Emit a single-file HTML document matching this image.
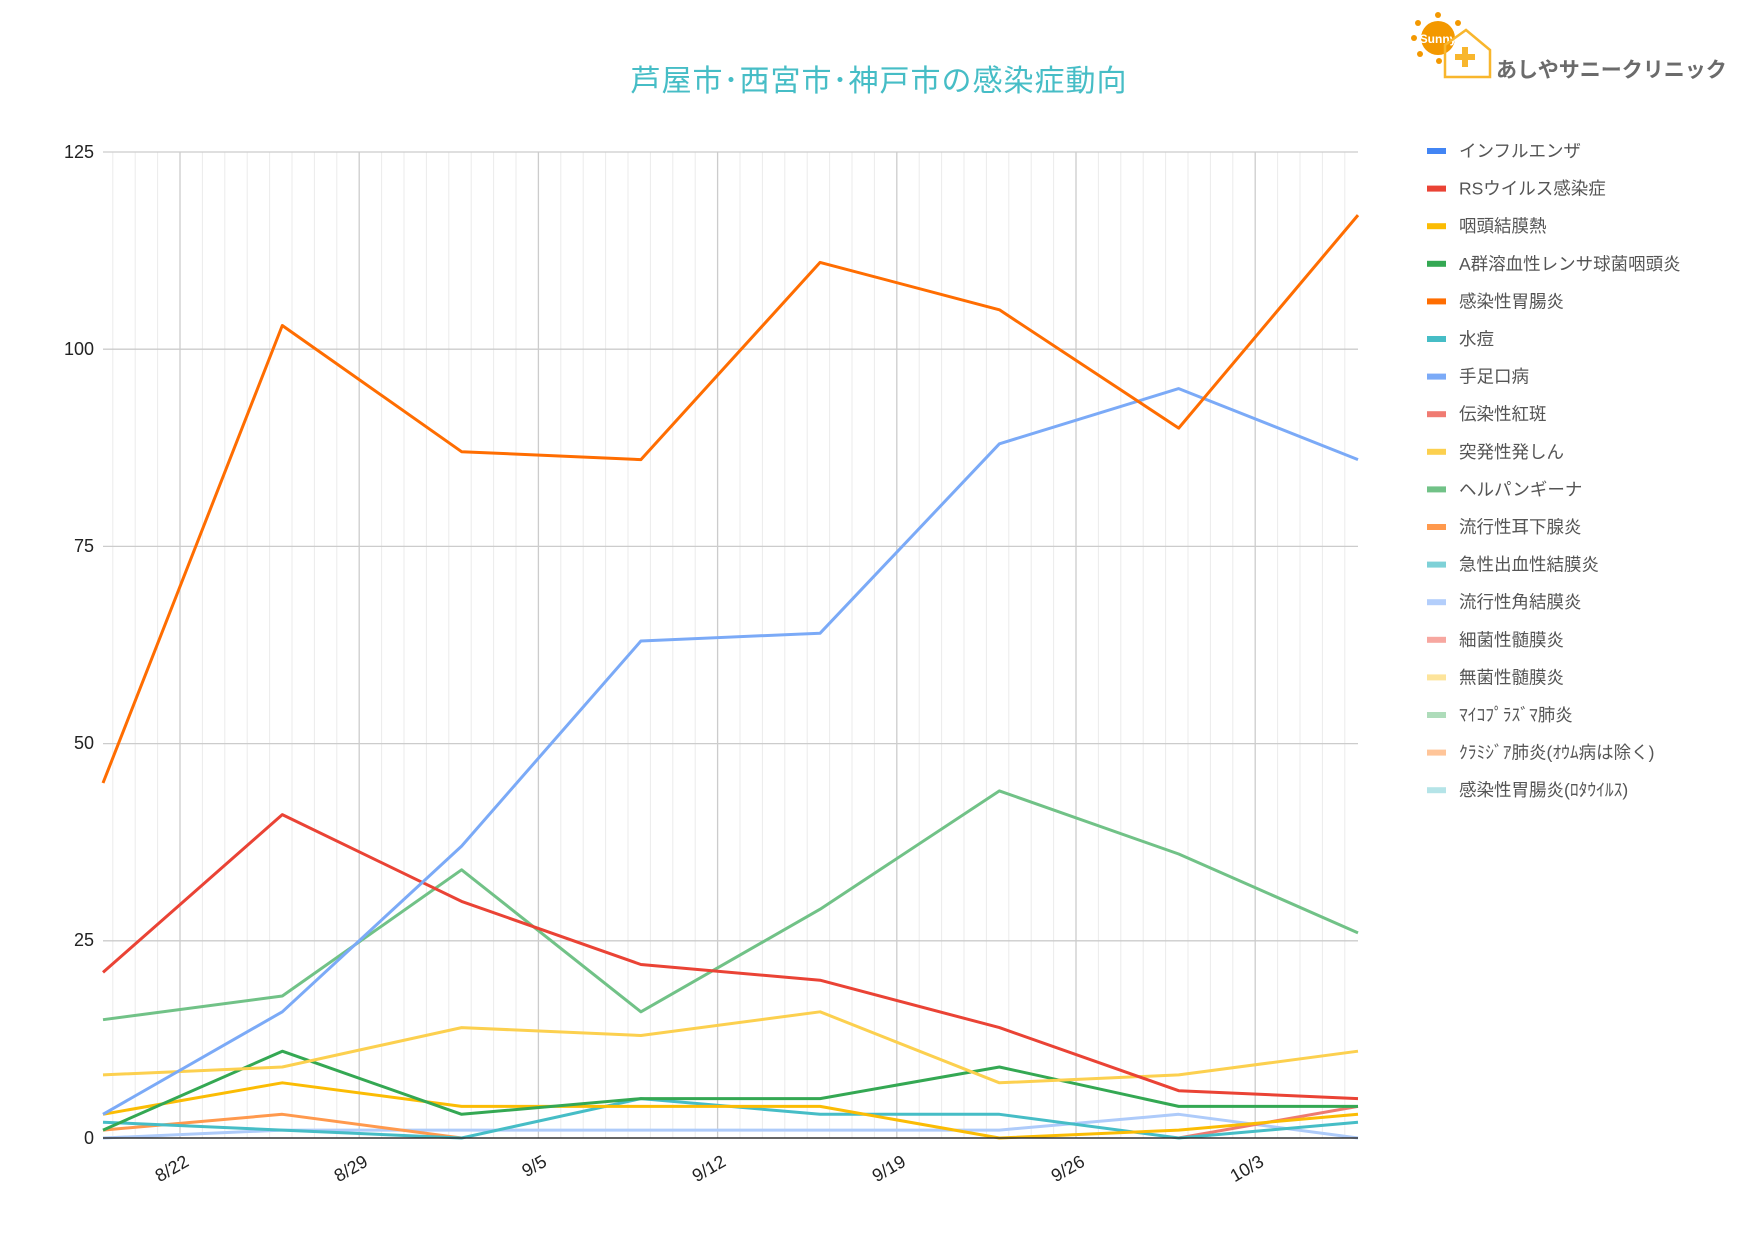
<!DOCTYPE html>
<html><head><meta charset="utf-8"><style>
html,body{margin:0;padding:0;background:#fff;}
svg{display:block;font-family:"Liberation Sans","Noto Sans CJK JP",sans-serif;}
</style></head><body>
<svg width="1754" height="1239" viewBox="0 0 1754 1239" xmlns="http://www.w3.org/2000/svg">
<rect width="1754" height="1239" fill="#fff"/>
<text x="879" y="91" text-anchor="middle" font-size="30" fill="#46bdc6" font-family="Noto Sans CJK JP, sans-serif" letter-spacing="1">芦屋市･西宮市･神戸市の感染症動向</text>
<g>
<g fill="#f39800">
<circle cx="1438" cy="38" r="17"/>
<circle cx="1438" cy="15" r="3"/><circle cx="1418" cy="23" r="3"/><circle cx="1458" cy="23" r="3"/>
<circle cx="1414" cy="38" r="3"/><circle cx="1420" cy="54" r="3"/><circle cx="1439" cy="61" r="3"/>
</g>
<text x="1438" y="43" text-anchor="middle" font-size="12" font-weight="bold" fill="#fff">Sunny</text>
<path d="M1445 45 L1466 30 L1490 50 L1490 77 L1445 77 Z" fill="none" stroke="#f8b62d" stroke-width="2.5"/>
<path d="M1455 54 h7 v-7 h6 v7 h7 v6 h-7 v7 h-6 v-7 h-7 z" fill="#f8b62d"/>
<text x="1496" y="77" font-size="21" font-weight="bold" fill="#6b6b6b" font-family="Noto Sans CJK JP, sans-serif">あしやサニークリニック</text>
</g>
<g stroke="#ebebeb" stroke-width="1" id="minor"></g>
<g stroke="#ebebeb" stroke-width="1">
<path d="M112.8 152V1138M135.2 152V1138M157.6 152V1138M202.4 152V1138M224.8 152V1138M247.2 152V1138M269.6 152V1138M292 152V1138M314.4 152V1138M336.8 152V1138M381.6 152V1138M404 152V1138M426.4 152V1138M448.8 152V1138M471.2 152V1138M493.6 152V1138M516 152V1138M560.8 152V1138M583.2 152V1138M605.6 152V1138M628 152V1138M650.4 152V1138M672.8 152V1138M695.2 152V1138M740 152V1138M762.4 152V1138M784.8 152V1138M807.2 152V1138M829.6 152V1138M852 152V1138M874.4 152V1138M919.2 152V1138M941.6 152V1138M964 152V1138M986.4 152V1138M1008.8 152V1138M1031.2 152V1138M1053.6 152V1138M1098.4 152V1138M1120.8 152V1138M1143.2 152V1138M1165.6 152V1138M1188 152V1138M1210.4 152V1138M1232.8 152V1138M1277.6 152V1138M1300 152V1138M1322.4 152V1138M1344.8 152V1138"/>
</g>
<g stroke="#cccccc" stroke-width="1.3">
<path d="M180 152V1138M359.2 152V1138M538.4 152V1138M717.6 152V1138M896.8 152V1138M1076 152V1138M1255.2 152V1138"/>
<path d="M103 152H1358M103 349.2H1358M103 546.4H1358M103 743.6H1358M103 940.8H1358"/>
</g>
<g font-size="18" fill="#222" text-anchor="end">
<text x="94" y="158">125</text><text x="94" y="355">100</text><text x="94" y="552">75</text>
<text x="94" y="749">50</text><text x="94" y="946">25</text><text x="94" y="1144">0</text>
</g>
<g font-size="18" fill="#222" text-anchor="end">
<text transform="translate(190,1165) rotate(-30)">8/22</text>
<text transform="translate(369,1165) rotate(-30)">8/29</text>
<text transform="translate(548,1165) rotate(-30)">9/5</text>
<text transform="translate(727,1165) rotate(-30)">9/12</text>
<text transform="translate(907,1165) rotate(-30)">9/19</text>
<text transform="translate(1086,1165) rotate(-30)">9/26</text>
<text transform="translate(1265,1165) rotate(-30)">10/3</text>
</g>
<g fill="none" stroke-width="3" stroke-linejoin="round">
<polyline stroke="#aecbfa" points="103,1138 282.3,1130.1 461.6,1130.1 640.9,1130.1 820.1,1130.1 999.4,1130.1 1178.7,1114.3 1358,1138"/>
<polyline stroke="#ee7a70" points="1178.7,1138 1358,1106.4"/>
<polyline stroke="#ff994d" points="103,1130.1 282.3,1114.3 461.6,1138"/>
<polyline stroke="#46bdc6" points="103,1122.2 282.3,1130.1 461.6,1138 640.9,1098.6 820.1,1114.3 999.4,1114.3 1178.7,1138 1358,1122.2"/>
<polyline stroke="#fbbc04" points="103,1114.3 282.3,1082.8 461.6,1106.4 640.9,1106.4 820.1,1106.4 999.4,1138 1178.7,1130.1 1358,1114.3"/>
<polyline stroke="#34a853" points="103,1130.1 282.3,1051.2 461.6,1114.3 640.9,1098.6 820.1,1098.6 999.4,1067 1178.7,1106.4 1358,1106.4"/>
<polyline stroke="#fcd04f" points="103,1074.9 282.3,1067 461.6,1027.6 640.9,1035.5 820.1,1011.8 999.4,1082.8 1178.7,1074.9 1358,1051.2"/>
<polyline stroke="#71c287" points="103,1019.7 282.3,996 461.6,869.8 640.9,1011.8 820.1,909.2 999.4,790.9 1178.7,854 1358,932.9"/>
<polyline stroke="#ea4335" points="103,972.4 282.3,814.6 461.6,901.4 640.9,964.5 820.1,980.2 999.4,1027.6 1178.7,1090.7 1358,1098.6"/>
<polyline stroke="#7baaf7" points="103,1114.3 282.3,1011.8 461.6,846.1 640.9,641 820.1,633.2 999.4,443.8 1178.7,388.6 1358,459.6"/>
<polyline stroke="#ff6d01" points="103,783 282.3,325.5 461.6,451.7 640.9,459.6 820.1,262.4 999.4,309.8 1178.7,428.1 1358,215.1"/>
</g>
<g font-size="17.5" fill="#555">
<rect x="1427" y="148" width="19" height="6" fill="#4285f4"/><text x="1459" y="157">インフルエンザ</text>
<rect x="1427" y="185.6" width="19" height="6" fill="#ea4335"/><text x="1459" y="194.6">RSウイルス感染症</text>
<rect x="1427" y="223.2" width="19" height="6" fill="#fbbc04"/><text x="1459" y="232.2">咽頭結膜熱</text>
<rect x="1427" y="260.8" width="19" height="6" fill="#34a853"/><text x="1459" y="269.8">A群溶血性レンサ球菌咽頭炎</text>
<rect x="1427" y="298.4" width="19" height="6" fill="#ff6d01"/><text x="1459" y="307.4">感染性胃腸炎</text>
<rect x="1427" y="336" width="19" height="6" fill="#46bdc6"/><text x="1459" y="345">水痘</text>
<rect x="1427" y="373.6" width="19" height="6" fill="#7baaf7"/><text x="1459" y="382.6">手足口病</text>
<rect x="1427" y="411.2" width="19" height="6" fill="#f07b72"/><text x="1459" y="420.2">伝染性紅斑</text>
<rect x="1427" y="448.8" width="19" height="6" fill="#fcd04f"/><text x="1459" y="457.8">突発性発しん</text>
<rect x="1427" y="486.4" width="19" height="6" fill="#71c287"/><text x="1459" y="495.4">ヘルパンギーナ</text>
<rect x="1427" y="524" width="19" height="6" fill="#ff994d"/><text x="1459" y="533">流行性耳下腺炎</text>
<rect x="1427" y="561.6" width="19" height="6" fill="#7ed1d7"/><text x="1459" y="570.6">急性出血性結膜炎</text>
<rect x="1427" y="599.2" width="19" height="6" fill="#b3cefb"/><text x="1459" y="608.2">流行性角結膜炎</text>
<rect x="1427" y="636.8" width="19" height="6" fill="#f7a7a0"/><text x="1459" y="645.8">細菌性髄膜炎</text>
<rect x="1427" y="674.4" width="19" height="6" fill="#fde49b"/><text x="1459" y="683.4">無菌性髄膜炎</text>
<rect x="1427" y="712" width="19" height="6" fill="#aedcba"/><text x="1459" y="721">ﾏｲｺﾌﾟﾗｽﾞﾏ肺炎</text>
<rect x="1427" y="749.6" width="19" height="6" fill="#ffc599"/><text x="1459" y="758.6">ｸﾗﾐｼﾞｱ肺炎(ｵｳﾑ病は除く)</text>
<rect x="1427" y="787.2" width="19" height="6" fill="#b5e4e8"/><text x="1459" y="796.2">感染性胃腸炎(ﾛﾀｳｲﾙｽ)</text>
</g>
<path d="M103 1138H1358" stroke="#333" stroke-width="1.5"/>
</svg>
</body></html>
